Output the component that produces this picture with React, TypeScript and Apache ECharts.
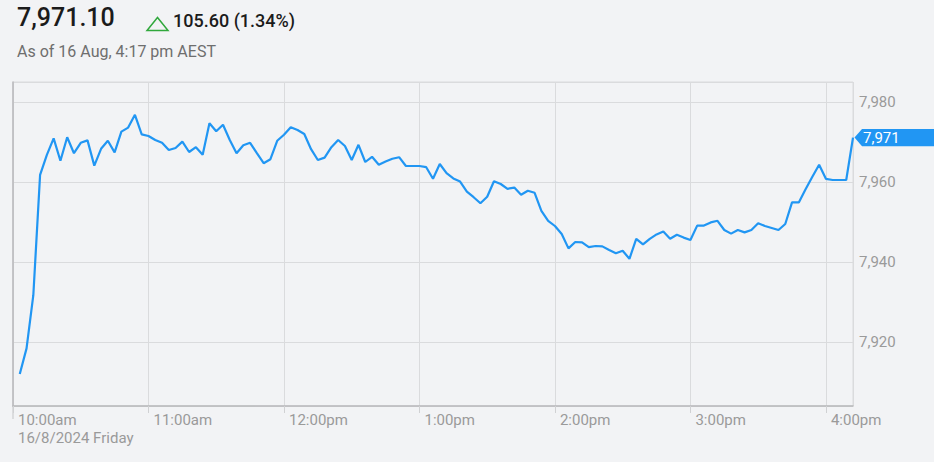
import React, { useEffect, useRef } from "react";
import * as echarts from "echarts";

// ---- data ----
const priceLabel = "7,971.10";
const changeLabel = "105.60 (1.34%)";
const asOfLabel = "As of 16 Aug, 4:17 pm AEST";
const dateLabel = "16/8/2024 Friday";
const hourLabels = ["10:00am", "11:00am", "12:00pm", "1:00pm", "2:00pm", "3:00pm", "4:00pm"];
const stepMinutes = 3; // one reading every 3 minutes after 10:00am
const lastValue = 7971.1;
const values = [
  7912, 7918.4, 7931.7, 7961.8, 7966.8, 7970.9, 7965.3, 7971.2, 7967.2, 7969.8,
  7970.4, 7964.1, 7968.3, 7970.3, 7967.4, 7972.6, 7973.6, 7976.8, 7971.9, 7971.5,
  7970.5, 7969.8, 7968, 7968.5, 7970.1, 7967.5, 7968.7, 7966.8, 7974.7, 7972.7,
  7974.3, 7970.5, 7967.2, 7969.2, 7969.8, 7967.2, 7964.7, 7965.7, 7970.3, 7971.8,
  7973.7, 7973, 7972, 7968.2, 7965.5, 7966.1, 7968.7, 7970.5, 7969, 7965.5,
  7969.3, 7965, 7966.3, 7964.3, 7965.1, 7965.8, 7966.2, 7964, 7964, 7964,
  7963.7, 7960.8, 7964.5, 7962.2, 7960.9, 7960.1, 7957.6, 7956.2, 7954.7, 7956.3,
  7960.2, 7959.5, 7958.3, 7958.6, 7956.8, 7957.8, 7957.3, 7952.8, 7950.3, 7949,
  7947, 7943.4, 7945, 7944.9, 7943.7, 7944, 7943.9, 7943, 7942.2, 7942.8,
  7940.8, 7945.8, 7944.4, 7945.8, 7946.9, 7947.6, 7945.8, 7946.8, 7946.1, 7945.5,
  7949.1, 7949.1, 7949.9, 7950.3, 7948, 7947.1, 7948, 7947.4, 7948, 7949.7,
  7949, 7948.5, 7948, 7949.5, 7954.9, 7954.9, 7958.2, 7961.3, 7964.3, 7960.8,
  7960.5, 7960.5, 7960.5, lastValue,
];

const LINE = "#2196f3";
const BG = "#f2f3f5";
const FONT = "Roboto, 'Noto Sans', sans-serif";

export default function App() {
  const ref = useRef<HTMLDivElement>(null);

  useEffect(() => {
    document.body.style.margin = "0";
    document.body.style.background = BG;
    const el = ref.current;
    if (!el) return;
    const chart = echarts.init(el, null, { renderer: "svg" });
    const seriesData = values.map((v, i) => [(i + 1) * stepMinutes, v]);
    const xMax = values.length * stepMinutes;

    chart.setOption({
      animation: false,
      backgroundColor: BG,
      textStyle: { fontFamily: FONT },
      grid: {
        left: 13,
        right: 81,
        top: 82,
        bottom: 56,
        show: true,
        borderColor: "#dadbdd",
        borderWidth: 1,
      },
      xAxis: {
        type: "value",
        min: 0,
        max: xMax,
        interval: 60,
        axisLine: { show: true, lineStyle: { color: "#b8b9bb", width: 1.5 } },
        axisTick: { show: true, length: 7, lineStyle: { color: "#d0d1d3" } },
        splitLine: { show: true, lineStyle: { color: "#dadbdd" } },
        axisLabel: {
          showMaxLabel: false,
          align: "left",
          margin: 5,
          padding: [0, 0, 0, 5],
          fontSize: 15,
          lineHeight: 18,
          color: "#9a9a9a",
          fontFamily: FONT,
          formatter: (v: number) => {
            if (v % 60 !== 0) return "";
            const i = v / 60;
            if (i >= hourLabels.length) return "";
            return i === 0 ? `${hourLabels[0]}\n${dateLabel}` : hourLabels[i];
          },
        },
      },
      yAxis: {
        type: "value",
        position: "right",
        min: 7904,
        max: 7985,
        splitNumber: 4,
        axisLine: { show: true, lineStyle: { color: "#b8b9bb", width: 1.5 } },
        axisTick: { show: false },
        splitLine: { show: true, lineStyle: { color: "#dadbdd" } },
        axisLabel: {
          showMinLabel: false,
          showMaxLabel: false,
          margin: 6,
          fontSize: 15,
          color: "#9a9a9a",
          fontFamily: FONT,
          formatter: (v: number) => v.toLocaleString("en-US"),
        },
      },
      series: [
        {
          type: "line",
          data: seriesData,
          showSymbol: false,
          symbol: "none",
          lineStyle: { color: LINE, width: 2.2 },
          z: 5,
        },
      ],
    });

    const ty = chart.convertToPixel({ yAxisIndex: 0 }, lastValue) as number;
    const tx = chart.convertToPixel({ xAxisIndex: 0 }, xMax) as number;
    const x0 = chart.convertToPixel({ xAxisIndex: 0 }, 0) as number;
    const yBottom = chart.convertToPixel({ yAxisIndex: 0 }, 7904) as number;
    const h = 8.7;

    chart.setOption({
      graphic: [
        {
          type: "text",
          left: 17,
          top: 5,
          style: {
            text: priceLabel,
            fontSize: 25,
            fontWeight: 500,
            fill: "#1b1b1b",
            fontFamily: FONT,
          },
        },
        {
          type: "polygon",
          shape: { points: [[147, 30.5], [168, 30.5], [157.5, 17.5]] },
          style: { fill: "none", stroke: "#30a83c", lineWidth: 1.5 },
        },
        {
          type: "text",
          left: 173,
          top: 11,
          style: {
            text: changeLabel,
            fontSize: 18,
            fontWeight: 500,
            fill: "#1b1b1b",
            fontFamily: FONT,
          },
        },
        {
          type: "text",
          left: 17,
          top: 43,
          style: {
            text: asOfLabel,
            fontSize: 16,
            fill: "#6e6e6e",
            fontFamily: FONT,
          },
        },
        {
          type: "line",
          shape: { x1: x0, y1: yBottom, x2: x0, y2: yBottom + 13 },
          style: { stroke: "#c4c5c7", lineWidth: 1 },
        },
        {
          type: "polygon",
          shape: {
            points: [
              [tx + 1.5, ty],
              [tx + 9, ty - h],
              [934, ty - h],
              [934, ty + h],
              [tx + 9, ty + h],
            ],
          },
          style: { fill: LINE },
          z: 10,
        },
        {
          type: "text",
          x: tx + 10,
          y: ty,
          style: {
            text: lastValue.toLocaleString("en-US", { maximumFractionDigits: 0 }),
            fontSize: 15,
            fill: "#ffffff",
            fontFamily: FONT,
            verticalAlign: "middle",
            align: "left",
          },
          z: 11,
        },
      ],
    });

    return () => chart.dispose();
  }, []);

  return <div ref={ref} style={{ width: 934, height: 462 }} />;
}
